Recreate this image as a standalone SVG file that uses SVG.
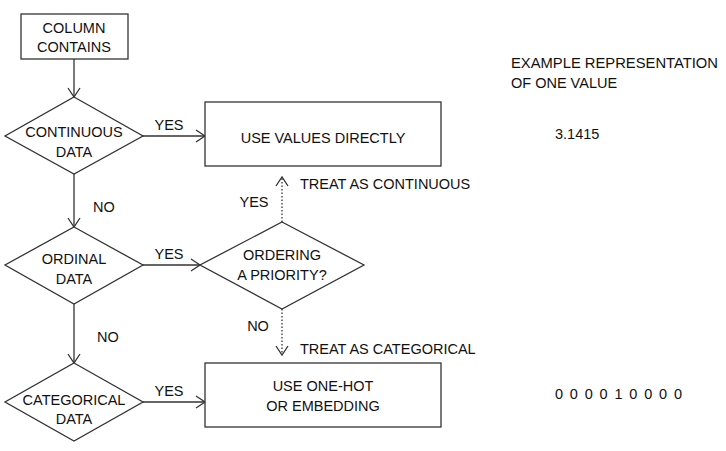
<svg xmlns="http://www.w3.org/2000/svg" width="726" height="451" viewBox="0 0 726 451">
<defs>
<marker id="ah" markerWidth="12" markerHeight="14" refX="10" refY="7" orient="auto" markerUnits="userSpaceOnUse">
<path d="M1,1 L10,7 L1,13" fill="none" stroke="#333" stroke-width="1.3"/>
</marker>
<style>
.box{fill:#fff;stroke:#333;stroke-width:1.3}
.ln{fill:none;stroke:#333;stroke-width:1.3}
.dot{fill:none;stroke:#333;stroke-width:1.3;stroke-dasharray:1.5 2}
text{font-family:"Liberation Sans",Arial,sans-serif;font-size:14.5px;fill:#111}
.c{text-anchor:middle}
</style>
</defs>
<rect width="726" height="451" fill="#fff"/>
<g id="connectors">
<line class="ln" x1="74" y1="59" x2="74" y2="97" marker-end="url(#ah)"/>
<line class="ln" x1="143" y1="136" x2="205" y2="136" marker-end="url(#ah)"/>
<line class="ln" x1="74" y1="174" x2="74" y2="227" marker-end="url(#ah)"/>
<line class="ln" x1="143" y1="265" x2="200" y2="265" marker-end="url(#ah)"/>
<line class="ln" x1="74" y1="304" x2="74" y2="363" marker-end="url(#ah)"/>
<line class="ln" x1="143" y1="402" x2="205" y2="402" marker-end="url(#ah)"/>
<line class="dot" x1="282" y1="222" x2="282" y2="177" marker-end="url(#ah)"/>
<line class="dot" x1="282" y1="309" x2="282" y2="355" marker-end="url(#ah)"/>
<text class="c" x="169" y="130">YES</text>
<text x="93" y="212">NO</text>
<text class="c" x="169" y="259">YES</text>
<text x="97" y="342">NO</text>
<text class="c" x="169" y="396">YES</text>
<text class="c" x="254" y="207">YES</text>
<text class="c" x="258" y="331">NO</text>
<text x="300" y="189">TREAT AS CONTINUOUS</text>
<text x="300" y="354">TREAT AS CATEGORICAL</text>
</g>
<g id="column-contains">
<rect class="box" x="21" y="14" width="107" height="45"/>
<text class="c" x="74" y="33">COLUMN</text>
<text class="c" x="74" y="52">CONTAINS</text>
</g>
<g id="continuous-data">
<polygon class="box" points="74,97 143,136 74,174 5,136"/>
<text class="c" x="74" y="137">CONTINUOUS</text>
<text class="c" x="74" y="157">DATA</text>
</g>
<g id="use-values-directly">
<rect class="box" x="205" y="102" width="236" height="64"/>
<text class="c" x="323" y="143">USE VALUES DIRECTLY</text>
</g>
<g id="ordinal-data">
<polygon class="box" points="74,227 143,265 74,304 5,265"/>
<text class="c" x="74" y="264">ORDINAL</text>
<text class="c" x="74" y="284">DATA</text>
</g>
<g id="ordering-priority">
<polygon class="box" points="282,222 364,265 282,309 200,265"/>
<text class="c" x="282" y="260">ORDERING</text>
<text class="c" x="282" y="280">A PRIORITY?</text>
</g>
<g id="categorical-data">
<polygon class="box" points="74,363 143,402 74,441 5,402"/>
<text class="c" x="74" y="405">CATEGORICAL</text>
<text class="c" x="74" y="424">DATA</text>
</g>
<g id="use-one-hot">
<rect class="box" x="205" y="363" width="236" height="64"/>
<text class="c" x="323" y="391">USE ONE-HOT</text>
<text class="c" x="323" y="411">OR EMBEDDING</text>
</g>
<g id="examples">
<text x="511" y="68" textLength="207" lengthAdjust="spacingAndGlyphs">EXAMPLE REPRESENTATION</text>
<text x="511" y="88">OF ONE VALUE</text>
<text x="555" y="139">3.1415</text>
<text x="555" y="399" textLength="127" lengthAdjust="spacing">0 0 0 0 1 0 0 0 0</text>
</g>
</svg>
